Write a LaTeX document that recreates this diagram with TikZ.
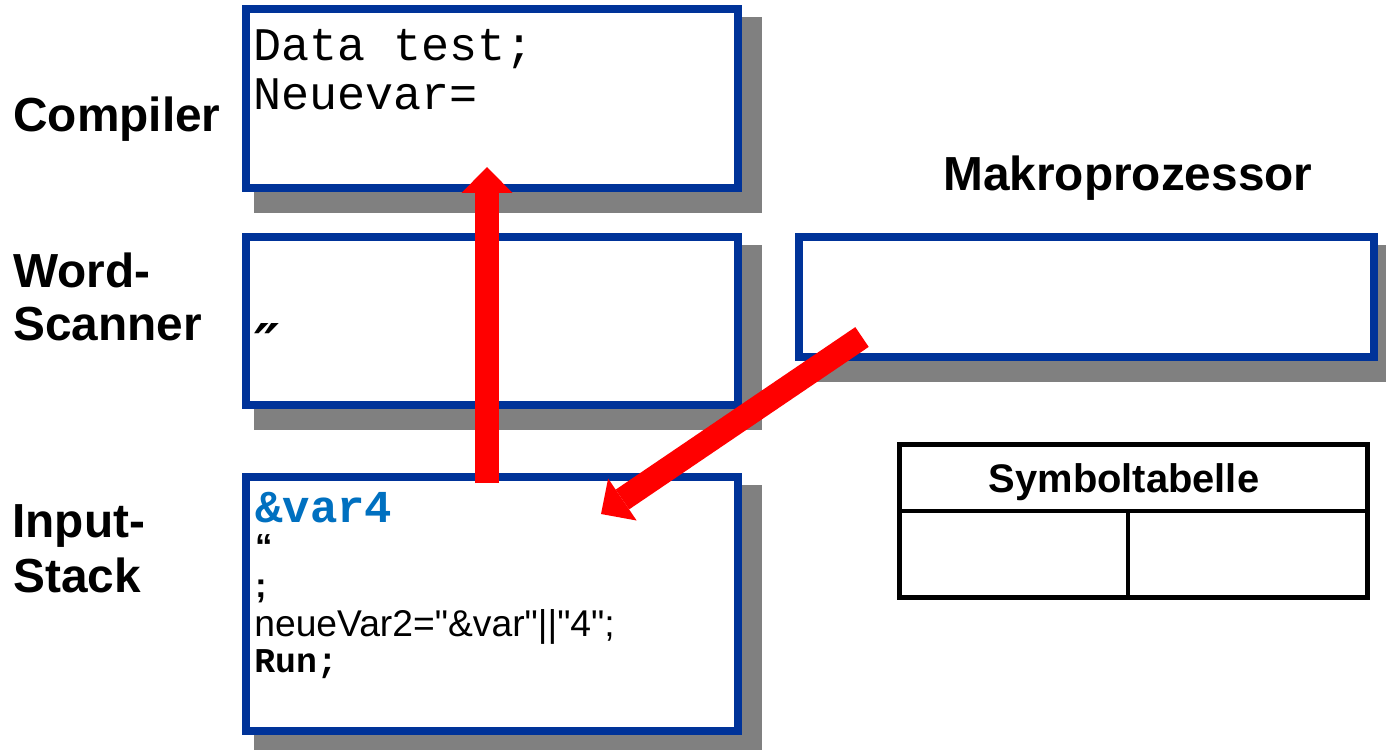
\documentclass[tikz,border=0pt]{standalone}
\usepackage{fontspec}
\setmainfont{Liberation Sans}[Ligatures=TeXOff]
\newfontfamily\codefont{Liberation Mono}
\newfontfamily\markfont{DejaVu Sans}
\usetikzlibrary{arrows.meta,backgrounds}
\definecolor{frameblue}{RGB}{0,51,153}
\definecolor{varblue}{RGB}{0,112,192}
\definecolor{shadowgray}{RGB}{128,128,128}
\begin{document}
\begin{tikzpicture}[x=0.02cm,y=-0.02cm,
  panel/.style={rectangle,draw=frameblue,line width=4.5pt,fill=white,inner sep=0pt,minimum width=9.84cm},
  tablebox/.style={rectangle,draw=black,line width=2.8pt,fill=white,inner sep=0pt},
  layerlabel/.style={anchor=base west,inner sep=0pt,font=\fontsize{27.2}{32}\selectfont\bfseries},
  codeline/.style={anchor=base west,inner sep=0pt},
  flow/.style={draw=red,line width=13.6pt,-{Triangle[width=28.9pt,length=14.7pt,line width=0pt]}},
  dropshade/.style={fill=shadowgray}
]
\useasboundingbox (0,0) rectangle (1386,750);
\clip (0,0) rectangle (1386,750);

% layer labels
\node[layerlabel] (lcomp) at (13,132) {Compiler};
\node[layerlabel] (lword1) at (13,287) {Word-};
\node[layerlabel] (lword2) at (13,340) {Scanner};
\node[layerlabel] (linput1) at (12,537) {Input-};
\node[layerlabel] (linput2) at (13,592) {Stack};
\node[layerlabel] (lmakro) at (943,190) {Makroprozessor};

% panels
\node[panel,minimum height=3.58cm] (comp) at (492,98.5) {};
\node[panel,minimum height=3.36cm] (word) at (492,321) {};
\node[panel,minimum height=5.08cm] (input) at (492,604) {};
\node[panel,minimum width=11.5cm,minimum height=2.4cm] (makro) at (1086.5,297) {};

% drop shadows behind the panels
\begin{pgfonlayer}{background}
  \foreach \p in {comp,word,input,makro}
    \fill[dropshade] ([shift={(12,12)}]\p.north west) rectangle ([shift={(20,21)}]\p.south east);
\end{pgfonlayer}

% compiler contents
\node[codeline,font=\codefont\fontsize{26.6}{30}\selectfont] (c1) at (253,61) {Data test;};
\node[codeline,font=\codefont\fontsize{26.6}{30}\selectfont] (c2) at (253,110) {Neuevar=};

% word scanner contents
\node[codeline,font=\markfont\bfseries\itshape\fontsize{32}{36}\selectfont] (w1) at (254,364) {″};

% input stack contents
\node[codeline,font=\codefont\bfseries\fontsize{26}{30}\selectfont,text=varblue] (i1) at (255,522) {\&var4};
\node[codeline,font=\bfseries\fontsize{19.8}{24}\selectfont] (i2) at (255,558) {“};
\node[codeline,font=\bfseries\fontsize{19.8}{24}\selectfont] (i3) at (255,597) {;};
\node[codeline,font=\fontsize{21.2}{25}\selectfont] (i4) at (254,636) {neueVar2="\&var"||"4";};
\node[codeline,font=\codefont\bfseries\fontsize{19.8}{24}\selectfont] (i5) at (254,672) {Run;};

% symbol table
\node[tablebox,minimum width=9.36cm,minimum height=3.06cm] (symtab) at (1133.5,521) {};
\draw[line width=2.8pt] (symtab.west |- 0,511) -- (symtab.east |- 0,511);
\draw[line width=2.8pt] (1128,511) -- (symtab.south -| 1128,0);
\node[anchor=base,inner sep=0pt,font=\fontsize{22.7}{26}\selectfont\bfseries] (symtitle) at (1124,492) {Symboltabelle};

% data flow arrows
\coordinate (upTail) at (487,483);
\coordinate (upTip) at (487,167);
\coordinate (dnTail) at (862,337);
\coordinate (dnTip) at (601,514);
\draw[flow] (upTail) -- (upTip);
\draw[flow] (dnTail) -- (dnTip);
\end{tikzpicture}
\end{document}
